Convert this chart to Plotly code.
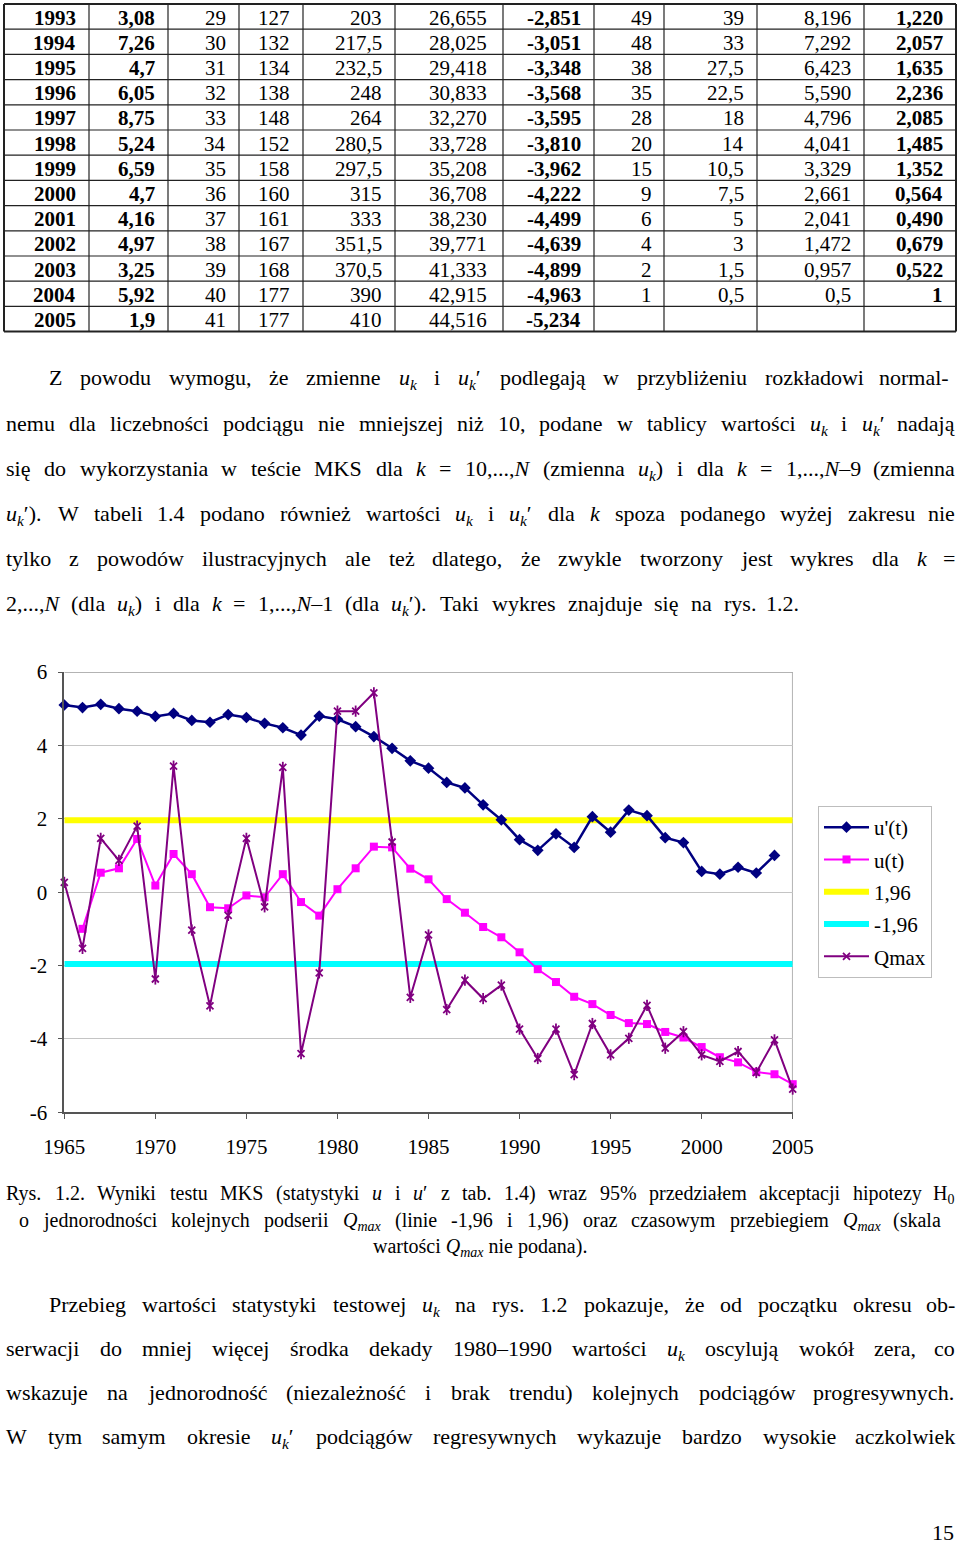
import re
import plotly.graph_objects as go

W, H = 960, 1545
FONT = "Liberation Serif, Times New Roman, serif"

# ---------------- chart data ----------------
years = [1965, 1966, 1967, 1968, 1969, 1970, 1971, 1972, 1973, 1974,
         1975, 1976, 1977, 1978, 1979, 1980, 1981, 1982, 1983, 1984,
         1985, 1986, 1987, 1988, 1989, 1990, 1991, 1992, 1993, 1994,
         1995, 1996, 1997, 1998, 1999, 2000, 2001, 2002, 2003, 2004, 2005]
u_prime_years = years[:-1]      # k = 1..N-1
u_years = years[1:]             # k = 2..N
u_prime = [5.10, 5.03, 5.12, 5.00, 4.93, 4.79, 4.87, 4.68, 4.63, 4.84,
           4.76, 4.60, 4.48, 4.28, 4.80, 4.71, 4.51, 4.24, 3.92, 3.58,
           3.38, 2.99, 2.84, 2.38, 1.97, 1.43, 1.14, 1.59, 1.220, 2.057,
           1.635, 2.236, 2.085, 1.485, 1.352, 0.564, 0.490, 0.679, 0.522, 1.0]
u_vals = [-1.00, 0.53, 0.65, 1.45, 0.18, 1.04, 0.49, -0.41, -0.44,
          -0.09, -0.14, 0.49, -0.27, -0.64, 0.08, 0.65, 1.24, 1.22, 0.64,
          0.35, -0.19, -0.56, -0.95, -1.23, -1.64, -2.10, -2.45, -2.851, -3.051,
          -3.348, -3.568, -3.595, -3.810, -3.962, -4.222, -4.499, -4.639, -4.899, -4.963, -5.234]
qmax = [18.8, 13.4, 22.4, 20.6, 23.4, 10.9, 28.3, 14.9, 8.7, 16.1,
        22.4, 16.8, 28.2, 4.8, 11.4, 32.8, 32.8, 34.3, 22.1, 9.4,
        14.5, 8.4, 10.8, 9.3, 10.4, 6.8, 4.4, 6.8, 3.08, 7.26,
        4.7, 6.05, 8.75, 5.24, 6.59, 4.7, 4.16, 4.97, 3.25, 5.92, 1.9]
upper_limit = 1.96
lower_limit = -1.96
y_tickvals = [-6, -4, -2, 0, 2, 4, 6]
y_ticktext = ["-6", "-4", "-2", "0", "2", "4", "6"]
x_tickvals = [1965, 1970, 1975, 1980, 1985, 1990, 1995, 2000, 2005]

# ---------------- table data ----------------
t_year = ["1993", "1994", "1995", "1996", "1997", "1998", "1999", "2000", "2001", "2002", "2003", "2004", "2005"]
t_q = ["3,08", "7,26", "4,7", "6,05", "8,75", "5,24", "6,59", "4,7", "4,16", "4,97", "3,25", "5,92", "1,9"]
t_i = ["29", "30", "31", "32", "33", "34", "35", "36", "37", "38", "39", "40", "41"]
t_n = ["127", "132", "134", "138", "148", "152", "158", "160", "161", "167", "168", "177", "177"]
t_e = ["203", "217,5", "232,5", "248", "264", "280,5", "297,5", "315", "333", "351,5", "370,5", "390", "410"]
t_s = ["26,655", "28,025", "29,418", "30,833", "32,270", "33,728", "35,208", "36,708", "38,230", "39,771", "41,333", "42,915", "44,516"]
t_u = ["-2,851", "-3,051", "-3,348", "-3,568", "-3,595", "-3,810", "-3,962", "-4,222", "-4,499", "-4,639", "-4,899", "-4,963", "-5,234"]
t_n2 = ["49", "48", "38", "35", "28", "20", "15", "9", "6", "4", "2", "1", ""]
t_e2 = ["39", "33", "27,5", "22,5", "18", "14", "10,5", "7,5", "5", "3", "1,5", "0,5", ""]
t_s2 = ["8,196", "7,292", "6,423", "5,590", "4,796", "4,041", "3,329", "2,661", "2,041", "1,472", "0,957", "0,5", ""]
t_u2 = ["1,220", "2,057", "1,635", "2,236", "2,085", "1,485", "1,352", "0,564", "0,490", "0,679", "0,522", "1", ""]
table_cols = [t_year, t_q, t_i, t_n, t_e, t_s, t_u, t_n2, t_e2, t_s2, t_u2]
bold_cols = {0, 1, 6, 10}

# ---------------- text ----------------
uk = "<i>u</i><sub><i>k</i></sub>"
ukp = uk + "′"
kk = "<i>k</i>"
NN = "<i>N</i>"
Qm = "<i>Q</i><sub><i>max</i></sub>"

para1 = [
    f"Z powodu wymogu, że zmienne {uk} i {ukp} podlegają w przybliżeniu rozkładowi normal-",
    f"nemu dla liczebności podciągu nie mniejszej niż 10, podane w tablicy wartości {uk} i {ukp} nadają",
    f"się do wykorzystania w teście MKS dla {kk} = 10,...,{NN} (zmienna {uk}) i dla {kk} = 1,...,{NN}–9 (zmienna",
    f"{ukp}). W tabeli 1.4 podano również wartości {uk} i {ukp} dla {kk} spoza podanego wyżej zakresu nie",
    f"tylko z powodów ilustracyjnych ale też dlatego, że zwykle tworzony jest wykres dla {kk} =",
    f"2,...,{NN} (dla {uk}) i dla {kk} = 1,...,{NN}–1 (dla {ukp}). Taki wykres znajduje się na rys. 1.2.",
]
para2 = [
    f"Przebieg wartości statystyki testowej {uk} na rys. 1.2 pokazuje, że od początku okresu ob-",
    f"serwacji do mniej więcej środka dekady 1980–1990 wartości {uk} oscylują wokół zera, co",
    "wskazuje na jednorodność (niezależność i brak trendu) kolejnych podciągów progresywnych.",
    f"W tym samym okresie {ukp} podciągów regresywnych wykazuje bardzo wysokie aczkolwiek",
]
caption = [
    "Rys. 1.2. Wyniki testu MKS (statystyki <i>u</i> i <i>u</i>′ z tab. 1.4) wraz 95% przedziałem akceptacji hipotezy H<sub>0</sub>",
    f"o jednorodności kolejnych podserii {Qm} (linie -1,96 i 1,96) oraz czasowym przebiegiem {Qm} (skala",
    f"wartości {Qm} nie podana).",
]
page_number = "15"

# ---------------- text width estimation (Times metrics) ----------------
REG = {}
for chars, w in [("0123456789bdghknopquvxyńó", 500), ("aceząęćźż?", 444), ("ijltł/:;", 278),
                 ("fr()-I", 333), ("sśJ", 389), (" ,.", 250), ("m", 778), ("w", 722),
                 ("%", 833), ("=", 564), ("–", 500), ("′", 275), ("'", 180),
                 ("ADGHKNOUVXY", 722), ("BCR", 667), ("ELTZ", 611), ("FPS", 556), ("M", 889),
                 ("Q", 722), ("W", 944)]:
    for ch in chars:
        REG[ch] = w
IT = {"u": 500, "k": 444, "N": 667, "Q": 722, "m": 722, "a": 500, "x": 444}


def tw(markup, size):
    ital = False
    sub = False
    total = 0.0
    for part in re.split(r"(<[^>]+>)", markup):
        if part.startswith("<"):
            closing = part.startswith("</")
            tag = part.strip("<>/").lower()
            if tag == "i":
                ital = not closing
            elif tag == "sub":
                sub = not closing
            continue
        for ch in part:
            w = IT.get(ch) if ital and ch in IT else REG.get(ch, 500)
            total += w * (0.7 if sub else 1.0)
    return total * size / 1000.0


annotations = []
shapes = []


def px(x):
    return x / W


def py(y):
    return 1 - y / H


def add_text(text, x, y, size, xanchor="left", yanchor="middle"):
    annotations.append(dict(text=text, x=px(x), y=py(y), xref="paper", yref="paper",
                            xanchor=xanchor, yanchor=yanchor, showarrow=False, borderpad=0,
                            font=dict(family=FONT, size=size, color="black")))


def place_line(text, x0, x1, yc, size):
    words = text.split()
    ws = [tw(w, size) for w in words]
    gap = (x1 - x0 - sum(ws)) / max(len(words) - 1, 1)
    x = x0
    top = yc - size * 0.58
    for i, (w, wd) in enumerate(zip(words, ws)):
        if i == len(words) - 1 and len(words) > 1:
            add_text(w, x1, top, size, xanchor="right", yanchor="top")
        else:
            add_text(w, x, top, size, xanchor="left", yanchor="top")
        x += wd + gap


# paragraph 1
p1_y = [377, 423, 468, 513, 558, 603]
p1_x = [(48, 950), (5, 956), (5, 956), (5, 956), (5, 956), (5, 800)]
for line, yc, (a, b) in zip(para1, p1_y, p1_x):
    place_line(line, a, b, yc, 22)

# paragraph 2
p2_y = [1304, 1348, 1392, 1436]
p2_x = [(48, 956), (5, 956), (5, 955), (5, 956)]
for line, yc, (a, b) in zip(para2, p2_y, p2_x):
    place_line(line, a, b, yc, 22)

# caption
place_line(caption[0], 5, 955, 1193, 20)
place_line(caption[1], 18, 942, 1220, 20)
add_text(caption[2], 480, 1246 - 20 * 0.58, 20, xanchor="center", yanchor="top")

add_text(page_number, 955, 1532, 22, xanchor="right")

# ---------------- table ----------------
col_x = [4, 89, 168, 239, 303, 395, 503, 594, 664, 757, 864, 956]
pads = [12, 12, 12, 12, 12, 15, 12, 11, 12, 12, 12]
row_y0, row_h = 4, 25.2
nrows = len(t_year)
for i, cx in enumerate(col_x):
    outer = i in (0, len(col_x) - 1)
    shapes.append(dict(type="line", xref="paper", yref="paper", x0=px(cx), x1=px(cx),
                       y0=py(row_y0), y1=py(row_y0 + nrows * row_h),
                       line=dict(color="#222", width=2 if outer else 1.2)))
for r in range(nrows + 1):
    yy = row_y0 + r * row_h
    outer = r in (0, nrows)
    shapes.append(dict(type="line", xref="paper", yref="paper", x0=px(col_x[0]), x1=px(col_x[-1]),
                       y0=py(yy), y1=py(yy), line=dict(color="#222", width=2 if outer else 1.2)))
for c, col in enumerate(table_cols):
    for r, val in enumerate(col):
        if not val:
            continue
        txt = f"<b>{val}</b>" if c in bold_cols else val
        add_text(txt, col_x[c + 1] - pads[c], row_y0 + (r + 0.5) * row_h + 1, 21, xanchor="right")

# ---------------- chart ----------------
fig = go.Figure()
fig.add_trace(go.Scatter(x=years, y=[upper_limit] * len(years), mode="lines", name="1,96",
                         line=dict(color="#FFFF00", width=6), legendrank=3, legendgroup="g3",
                         cliponaxis=False))
fig.add_trace(go.Scatter(x=years, y=[lower_limit] * len(years), mode="lines", name="-1,96",
                         line=dict(color="#00FFFF", width=6), legendrank=4, legendgroup="g4",
                         cliponaxis=False))
fig.add_trace(go.Scatter(x=u_years, y=u_vals, mode="lines+markers", name="u(t)",
                         line=dict(color="#FF00FF", width=2),
                         marker=dict(symbol="square", size=8, color="#FF00FF"),
                         legendrank=2, legendgroup="g2", cliponaxis=False))
fig.add_trace(go.Scatter(x=years, y=qmax, mode="lines+markers", name="Qmax", yaxis="y2",
                         line=dict(color="#800080", width=2),
                         marker=dict(symbol="x-thin-open", size=7, color="#800080",
                                     line=dict(width=1.8, color="#800080")),
                         legendrank=5, legendgroup="g5", cliponaxis=False))
fig.add_trace(go.Scatter(x=years, y=qmax, mode="markers", name="Qmax", yaxis="y2",
                         marker=dict(symbol="line-ns-open", size=8, color="#800080",
                                     line=dict(width=1.8, color="#800080")),
                         showlegend=False, legendgroup="g5", cliponaxis=False, hoverinfo="skip"))
fig.add_trace(go.Scatter(x=u_prime_years, y=u_prime, mode="lines+markers", name="u'(t)",
                         line=dict(color="#000080", width=2.5),
                         marker=dict(symbol="diamond", size=9, color="#000080"),
                         legendrank=1, legendgroup="g1", cliponaxis=False))

# plot-area border (top/right)
shapes.append(dict(type="line", xref="x", yref="y", x0=1965, x1=2005, y0=6, y1=6,
                   line=dict(color="#9a9a9a", width=1.5), layer="below"))
shapes.append(dict(type="line", xref="x", yref="y", x0=2005, x1=2005, y0=-6, y1=6,
                   line=dict(color="#9a9a9a", width=1.5), layer="below"))

axis_font = dict(family=FONT, size=21, color="black")
fig.update_layout(
    template="none",
    width=W, height=H,
    margin=dict(l=0, r=0, t=0, b=0, pad=0, autoexpand=False),
    paper_bgcolor="white", plot_bgcolor="white",
    showlegend=True,
    font=dict(family=FONT, color="black"),
    xaxis=dict(domain=[px(64.3), px(792.7)], range=[1965, 2005], tickvals=x_tickvals,
               ticks="outside", ticklen=5, tickcolor="#555", showline=True, linecolor="#555",
               linewidth=1.5, showgrid=False, zeroline=False, tickfont=axis_font,
               ticklabelstandoff=10, automargin=False),
    yaxis=dict(domain=[py(1112.3), py(672)], range=[-6, 6], tickvals=y_tickvals,
               ticktext=y_ticktext, ticks="outside", ticklen=5, tickcolor="#555",
               showline=True, linecolor="#555", linewidth=1.5, showgrid=True,
               gridcolor="#c4c4c4", gridwidth=1, zeroline=False, tickfont=axis_font,
               ticklabelstandoff=6, automargin=False),
    yaxis2=dict(overlaying="y", anchor="x", range=[0, 36], visible=False, automargin=False),
    legend=dict(x=px(818), y=py(806), xanchor="left", yanchor="top",
                bordercolor="#bdbdbd", borderwidth=1, bgcolor="white",
                font=dict(family=FONT, size=21, color="black"),
                tracegroupgap=2, itemwidth=45),
    annotations=annotations,
    shapes=shapes,
)

# remove the page's default body margin so the figure fills the window exactly
page_js = ("document.body.style.margin='0';"
           "document.body.style.overflow='hidden';"
           "document.documentElement.style.overflow='hidden';")
fig.write_html("out.html", post_script=page_js, config={"displayModeBar": False})
